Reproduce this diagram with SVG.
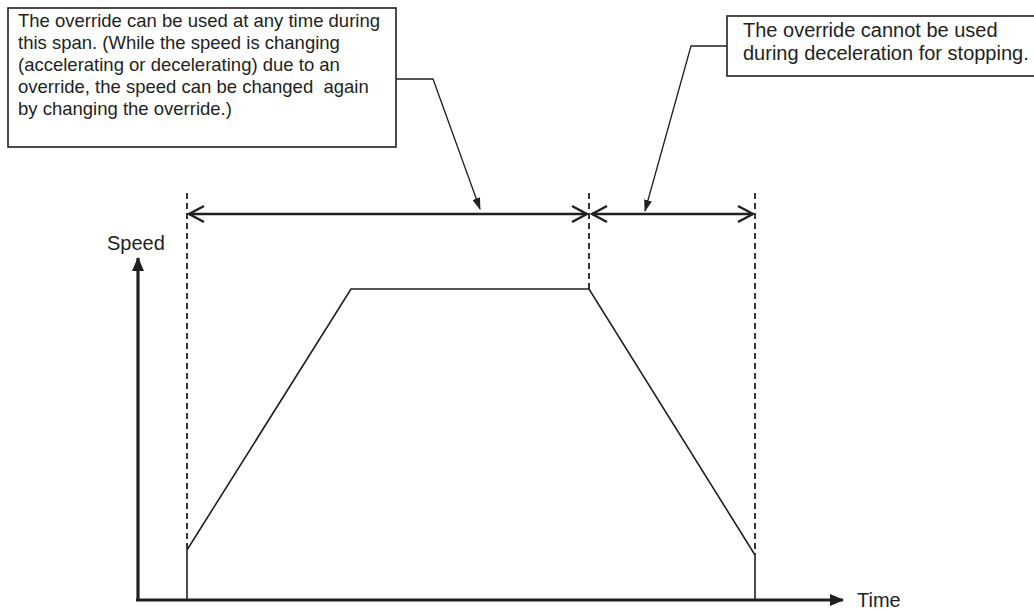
<svg xmlns="http://www.w3.org/2000/svg" width="1034" height="610" viewBox="0 0 1034 610">
<style>
.box{fill:#fff;stroke:#231f20;stroke-width:1.6}
.t{font-family:"Liberation Sans",Arial,sans-serif;fill:#231f20;white-space:pre}
.lead{fill:none;stroke:#231f20;stroke-width:1.3}
.dim{fill:none;stroke:#231f20;stroke-width:2.5}
.dash{fill:none;stroke:#231f20;stroke-width:1.8;stroke-dasharray:6 4}
.axis{fill:none;stroke:#231f20;stroke-width:3.2}
.curve{fill:none;stroke:#231f20;stroke-width:1.6}
</style>
<defs>
<marker id="lh" markerWidth="12" markerHeight="8" refX="11" refY="4" orient="auto" markerUnits="userSpaceOnUse">
<path d="M0,0 L12,4 L0,8 Z" fill="#231f20"/>
</marker>
<marker id="ch" markerWidth="18" markerHeight="20" refX="16" refY="10" orient="auto-start-reverse" markerUnits="userSpaceOnUse">
<path d="M1,2 L16,10 L1,18" fill="none" stroke="#231f20" stroke-width="2.5"/>
</marker>
<marker id="ah" markerWidth="14" markerHeight="12" refX="13" refY="6" orient="auto" markerUnits="userSpaceOnUse">
<path d="M0,0 L14,6 L0,12 Z" fill="#231f20"/>
</marker>
</defs>
<g id="note-any-time">
<rect class="box" x="8" y="8" width="388" height="139"/>
<text class="t" font-size="18.5"><tspan x="18" y="27">The override can be used at any time during</tspan><tspan x="18" y="49">this span. (While the speed is changing</tspan><tspan x="18" y="71">(accelerating or decelerating) due to an</tspan><tspan x="18" y="93">override, the speed can be changed  again</tspan><tspan x="18" y="115">by changing the override.)</tspan></text>
</g>
<g id="note-cannot">
<rect class="box" x="727" y="16" width="320" height="60"/>
<text class="t" font-size="20"><tspan x="743" y="37">The override cannot be used</tspan><tspan x="743" y="60">during deceleration for stopping.</tspan></text>
</g>
<g id="speed-profile">
<path class="curve" d="M187,600 L187,550 L351,289 L589,289 L755,555 L755,600"/>
</g>
<g id="axes">
<line class="axis" x1="138" y1="601" x2="138" y2="258" marker-end="url(#ah)"/>
<line class="axis" x1="136" y1="600" x2="843" y2="600" marker-end="url(#ah)"/>
<text class="t" x="107" y="250" font-size="20">Speed</text>
<text class="t" x="857" y="607" font-size="20">Time</text>
</g>
<g id="connectors">
<line class="dash" x1="187" y1="193" x2="187" y2="550"/>
<line class="dash" x1="589" y1="193" x2="589" y2="289"/>
<line class="dash" x1="755" y1="193" x2="755" y2="555"/>
<line class="dim" x1="189" y1="214" x2="587" y2="214" marker-start="url(#ch)" marker-end="url(#ch)"/>
<line class="dim" x1="592" y1="214" x2="753" y2="214" marker-start="url(#ch)" marker-end="url(#ch)"/>
<polyline class="lead" points="396,79 433,79 480,209" marker-end="url(#lh)"/>
<polyline class="lead" points="727,46 691,46 645,211" marker-end="url(#lh)"/>
</g>
</svg>
